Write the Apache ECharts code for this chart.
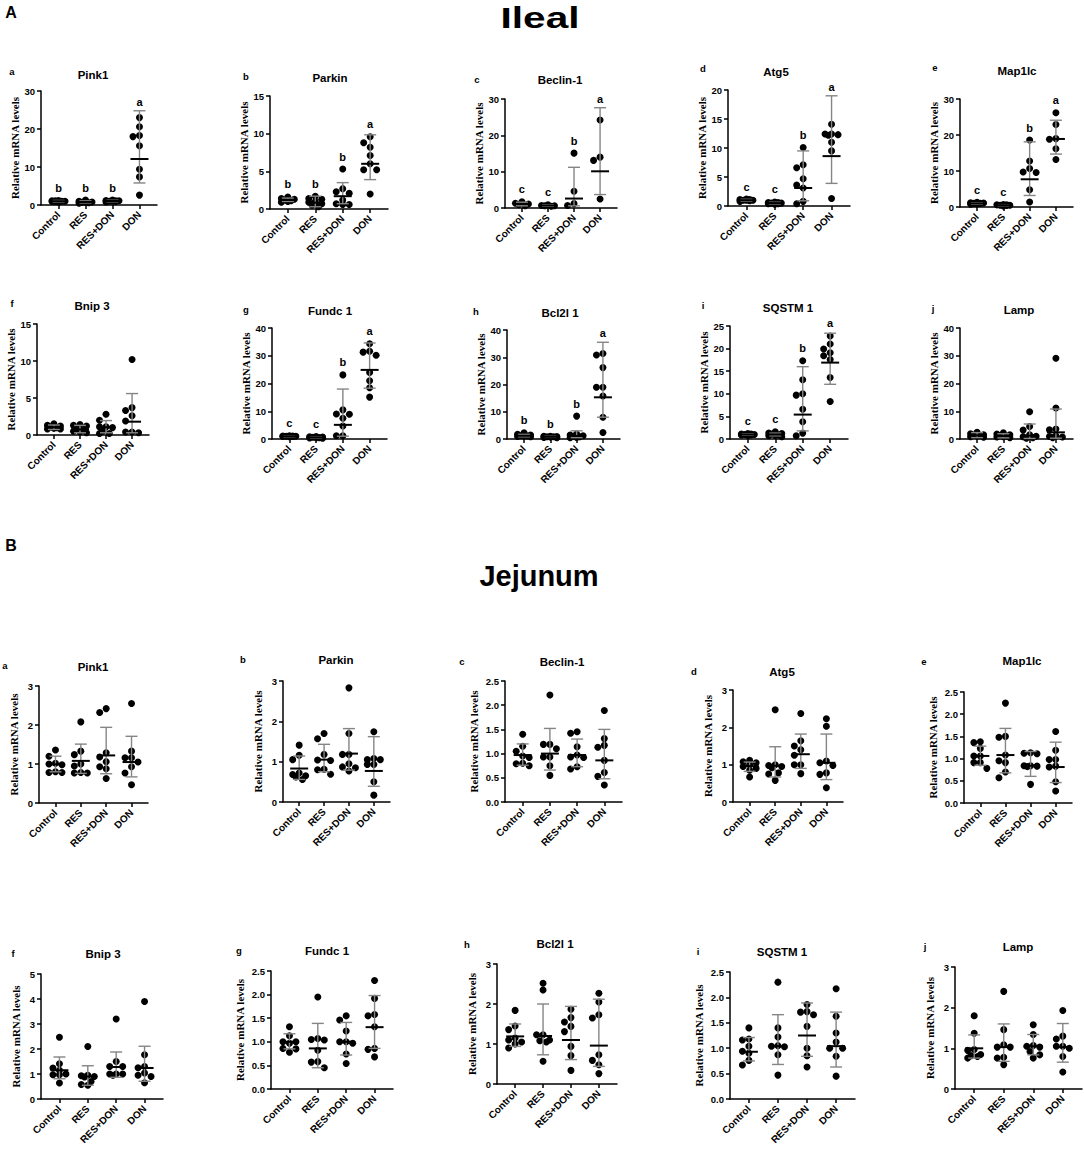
<!DOCTYPE html>
<html>
<head>
<meta charset="utf-8">
<script src="https://cdn.jsdelivr.net/npm/echarts@6/dist/echarts.min.js"></script>
<style>
  html, body { margin: 0; padding: 0; background: #fff; }
  #main { width: 1084px; height: 1149px; }
</style>
</head>
<body>
<div id="main"></div>
<script>
const groups = ['Control', 'RES', 'RES+DON', 'DON'];
const genes = ['Pink1', 'Parkin', 'Beclin-1', 'Atg5', 'Map1lc', 'Bnip 3', 'Fundc 1', 'Bcl2l 1', 'SQSTM 1', 'Lamp'];
const panelTags = ['a', 'b', 'c', 'd', 'e', 'f', 'g', 'h', 'i', 'j'];

const ilealYMax = [30, 15, 30, 20, 30, 15, 40, 40, 25, 40];
const ilealYStep = [10, 5, 10, 5, 10, 5, 10, 10, 5, 10];
const jejunumYMax = [3, 3, 2.5, 3, 2.5, 5, 2.5, 3, 2.5, 3];
const jejunumYStep = [1, 1, 0.5, 1, 0.5, 1, 0.5, 1, 0.5, 1];

// Ileal, points per group (Control, RES, RES+DON, DON)
const ilealPink1 = [[1.2, 1.1, 1.0, 0.9, 1.0, 0.8, 1.1, 0.9], [1.3, 1.0, 0.8, 0.7, 0.6, 0.9, 0.5, 0.7], [1.3, 1.2, 1.1, 1.0, 0.9, 1.0, 0.8, 1.1], [23.0, 20.6, 18.3, 18.0, 15.6, 9.4, 7.4, 2.6]];
const ilealParkin = [[1.6, 1.4, 1.3, 1.2, 1.1, 1.0, 0.9, 1.2], [1.7, 1.4, 1.3, 1.0, 0.9, 0.7, 0.5, 0.3], [5.3, 2.7, 2.3, 2.1, 1.2, 0.7, 0.6, 0.6], [9.6, 8.8, 8.2, 7.1, 6.0, 5.2, 5.2, 2.0]];
const ilealBeclin1 = [[1.7, 1.3, 1.1, 0.9, 0.6], [0.9, 0.7, 0.6, 0.6, 0.5], [15.1, 4.6, 1.2, 0.7], [24.2, 14.0, 13.1, 2.5]];
const ilealAtg5 = [[1.2, 1.1, 1.0, 1.0, 0.9, 1.0, 0.8, 1.1], [0.7, 0.6, 0.5, 0.5, 0.4, 0.6, 0.3, 0.4], [10.1, 7.1, 6.6, 4.7, 3.6, 3.1, 0.8, 0.4], [14.1, 12.4, 12.4, 12.3, 12.2, 11.0, 9.5, 1.3]];
const ilealMap1lc = [[1.3, 1.2, 1.1, 1.0, 1.0, 0.9, 0.8, 1.1], [0.7, 0.6, 0.5, 0.5, 0.4, 0.6, 0.3, 0.5], [18.6, 12.8, 10.7, 9.7, 9.6, 4.8, 1.4], [26.2, 22.9, 19.0, 18.8, 16.2, 13.2]];
const ilealBnip3 = [[1.5, 1.3, 1.2, 1.1, 1.0, 0.9, 0.8, 0.8], [1.4, 1.3, 1.2, 0.9, 0.7, 0.5, 0.4, 0.3], [2.8, 2.0, 1.1, 1.1, 1.0, 0.5, 0.2, 0.2], [10.2, 3.7, 3.3, 2.6, 1.9, 0.4, 0.4, 0.3]];
const ilealFundc1 = [[1.2, 1.1, 1.0, 1.0, 0.9, 1.1, 0.8, 0.9], [0.9, 0.8, 0.7, 0.6, 0.5, 0.5, 0.4, 0.3], [23.1, 10.5, 9.0, 8.9, 7.5, 4.7, 1.2, 1.2], [34.3, 31.6, 31.3, 30.2, 24.0, 21.0, 18.5, 15.1]];
const ilealBcl2l1 = [[2.3, 1.7, 1.5, 1.2, 1.1, 1.0, 0.9, 0.8], [1.0, 1.0, 0.9, 0.8, 0.8, 0.7, 0.6, 0.5], [8.4, 1.8, 1.5, 1.2, 1.0, 0.8, 0.6, 0.5], [31.4, 30.8, 26.2, 19.0, 19.0, 15.8, 8.0, 2.4]];
const ilealSqstm1 = [[1.2, 1.1, 1.0, 1.0, 0.9, 1.1, 0.8, 0.9], [1.6, 1.3, 1.2, 1.1, 0.9, 0.8, 0.7, 0.5], [17.3, 13.1, 10.0, 9.7, 6.6, 3.8, 1.3, 0.7], [22.8, 21.0, 19.9, 19.1, 18.4, 17.6, 13.6, 8.3]];
const ilealLamp = [[2.4, 1.9, 1.5, 1.4, 1.2, 1.0, 0.8, 0.6], [2.2, 1.8, 1.5, 1.2, 1.0, 0.8, 0.7, 0.5], [9.8, 4.5, 3.2, 1.5, 1.0, 0.8, 0.5, 0.3], [29.1, 11.2, 3.6, 3.3, 1.2, 0.9, 0.7, 0.5]];

// Ileal, [centre, lower, upper] per group
const ilealPink1Bar = [[1.0, 0.8, 1.2], [0.8, 0.55, 1.1], [1.05, 0.85, 1.25], [12.1, 5.8, 24.8]];
const ilealParkinBar = [[1.2, 1.0, 1.45], [0.85, 0.3, 1.7], [1.7, 0.7, 3.5], [6.0, 3.9, 9.85]];
const ilealBeclin1Bar = [[1.1, 0.6, 1.6], [0.7, 0.5, 0.9], [2.6, 0.6, 11.2], [10.1, 3.7, 27.6]];
const ilealAtg5Bar = [[1.0, 0.85, 1.15], [0.5, 0.35, 0.65], [3.1, 0.9, 9.5], [8.6, 3.9, 19.0]];
const ilealMap1lcBar = [[1.0, 0.8, 1.2], [0.5, 0.35, 0.65], [7.7, 3.2, 18.1], [18.9, 14.7, 24.1]];
const ilealBnip3Bar = [[1.05, 0.75, 1.35], [0.75, 0.3, 1.3], [1.05, 0.3, 1.95], [1.8, 0.3, 5.6]];
const ilealFundc1Bar = [[1.0, 0.8, 1.2], [0.6, 0.4, 0.8], [5.1, 1.0, 18.0], [24.9, 18.3, 34.6]];
const ilealBcl2l1Bar = [[1.2, 0.8, 1.7], [0.8, 0.6, 1.0], [1.1, 0.5, 3.0], [15.3, 8.0, 35.5]];
const ilealSqstm1Bar = [[1.0, 0.85, 1.15], [1.0, 0.7, 1.3], [5.4, 1.8, 16.0], [16.9, 12.1, 23.4]];
const ilealLampBar = [[1.3, 0.5, 2.3], [1.1, 0.4, 1.9], [1.2, 0.2, 5.4], [2.4, 0.3, 10.8]];

const ilealSig = [['b', 'b', 'b', 'a'], ['b', 'b', 'b', 'a'], ['c', 'c', 'b', 'a'], ['c', 'c', 'b', 'a'], ['c', 'c', 'b', 'a'],
  ['', '', '', ''], ['c', 'c', 'b', 'a'], ['b', 'b', 'b', 'a'], ['c', 'c', 'b', 'a'], ['', '', '', '']];

// Jejunum, points per group
const jejunumPink1 = [[1.36, 1.2, 1.02, 1.0, 0.98, 0.8, 0.78, 0.78], [2.08, 1.33, 1.24, 1.0, 0.95, 0.78, 0.77, 0.77], [2.42, 2.32, 1.29, 1.18, 1.06, 0.93, 0.88, 0.63], [2.55, 1.33, 1.16, 1.16, 1.05, 0.93, 0.77, 0.47]];
const jejunumParkin = [[1.41, 1.16, 1.05, 0.72, 0.68, 0.65, 0.62, 0.56], [1.70, 1.57, 1.18, 1.04, 1.03, 0.81, 0.80, 0.69], [2.83, 1.70, 1.18, 1.18, 0.95, 0.87, 0.85, 0.77], [1.74, 1.08, 1.05, 1.05, 0.93, 0.93, 0.5, 0.17]];
const jejunumBeclin1 = [[1.40, 1.15, 1.05, 0.95, 0.92, 0.80, 0.79, 0.75], [2.21, 1.19, 1.19, 1.1, 0.93, 0.93, 0.75, 0.55], [1.45, 1.42, 1.14, 0.97, 0.93, 0.92, 0.73, 0.68], [1.89, 1.31, 1.17, 1.13, 0.86, 0.61, 0.53, 0.35]];
const jejunumAtg5 = [[1.12, 1.08, 1.05, 1.0, 0.95, 0.9, 0.85, 0.67], [2.47, 1.0, 0.98, 0.95, 0.92, 0.78, 0.75, 0.58], [2.37, 1.64, 1.5, 1.4, 1.25, 1.0, 1.0, 0.76], [2.23, 2.03, 1.1, 1.05, 0.98, 0.78, 0.74, 0.38]];
const jejunumMap1lc = [[1.38, 1.36, 1.23, 1.06, 1.06, 0.91, 0.91, 0.78], [2.25, 1.5, 1.48, 1.08, 0.95, 0.91, 0.7, 0.57], [1.13, 1.12, 1.11, 0.84, 0.84, 0.83, 0.82, 0.42], [1.61, 1.19, 0.98, 0.98, 0.83, 0.81, 0.48, 0.27]];
const jejunumBnip3 = [[2.47, 1.41, 1.24, 1.15, 1.0, 0.97, 0.97, 0.64], [2.1, 0.95, 0.93, 0.9, 0.88, 0.7, 0.58, 0.55], [3.2, 1.5, 1.3, 1.3, 1.0, 1.0, 1.0, 0.95], [3.9, 1.77, 1.3, 1.25, 1.04, 0.95, 0.9, 0.65]];
const jejunumFundc1 = [[1.32, 1.13, 1.0, 1.0, 0.97, 0.86, 0.85, 0.78], [1.95, 1.07, 1.05, 1.04, 0.82, 0.58, 0.57, 0.45], [1.55, 1.46, 1.23, 1.0, 1.0, 0.97, 0.74, 0.54], [2.3, 1.92, 1.58, 1.55, 1.32, 0.86, 0.84, 0.68]];
const jejunumBcl2l1 = [[1.84, 1.45, 1.36, 1.15, 1.1, 1.05, 1.0, 0.9], [2.52, 2.35, 1.23, 1.23, 1.1, 1.08, 1.05, 0.57], [1.87, 1.66, 1.55, 1.44, 1.31, 0.94, 0.71, 0.34], [2.27, 2.05, 1.73, 1.65, 0.73, 0.59, 0.48, 0.26]];
const jejunumSqstm1 = [[1.4, 1.18, 1.16, 1.04, 0.94, 0.9, 0.76, 0.67], [2.3, 1.4, 1.22, 1.05, 1.04, 1.03, 0.87, 0.47], [1.86, 1.72, 1.71, 1.66, 1.43, 1.0, 0.85, 0.63], [2.17, 1.63, 1.3, 1.12, 1.0, 1.0, 0.84, 0.45]];
const jejunumLamp = [[1.8, 1.37, 0.97, 0.95, 0.85, 0.82, 0.8, 0.76], [2.4, 1.46, 1.09, 1.03, 1.03, 0.78, 0.76, 0.6], [1.58, 1.34, 1.07, 1.05, 1.03, 0.92, 0.84, 0.76], [1.93, 1.3, 1.23, 1.05, 1.05, 1.0, 0.8, 0.42]];

// Jejunum, [centre, lower, upper] per group
const jejunumPink1Bar = [[0.99, 0.8, 1.2], [1.08, 0.76, 1.51], [1.22, 0.75, 1.94], [1.05, 0.67, 1.71]];
const jejunumParkinBar = [[0.83, 0.56, 1.14], [1.05, 0.75, 1.43], [1.2, 0.79, 1.82], [0.77, 0.39, 1.62]];
const jejunumBeclin1Bar = [[0.97, 0.76, 1.2], [1.0, 0.66, 1.52], [0.97, 0.73, 1.3], [0.86, 0.48, 1.5]];
const jejunumAtg5Bar = [[0.96, 0.82, 1.07], [0.97, 0.67, 1.48], [1.28, 0.9, 1.82], [1.05, 0.6, 1.82]];
const jejunumMap1lcBar = [[1.06, 0.85, 1.28], [1.08, 0.68, 1.68], [0.84, 0.6, 1.16], [0.81, 0.46, 1.37]];
const jejunumBnip3Bar = [[1.15, 0.81, 1.68], [0.9, 0.55, 1.33], [1.28, 0.87, 1.88], [1.24, 0.71, 2.11]];
const jejunumFundc1Bar = [[1.0, 0.85, 1.17], [0.86, 0.45, 1.39], [1.0, 0.72, 1.41], [1.31, 0.86, 1.98]];
const jejunumBcl2l1Bar = [[1.19, 0.94, 1.5], [1.2, 0.73, 2.0], [1.1, 0.61, 1.94], [0.96, 0.44, 2.12]];
const jejunumSqstm1Bar = [[0.93, 0.75, 1.21], [1.04, 0.68, 1.66], [1.25, 0.84, 1.89], [1.04, 0.63, 1.71]];
const jejunumLampBar = [[1.0, 0.76, 1.33], [1.03, 0.68, 1.6], [1.05, 0.84, 1.34], [1.03, 0.66, 1.61]];

const ilealPoints = [ilealPink1, ilealParkin, ilealBeclin1, ilealAtg5, ilealMap1lc, ilealBnip3, ilealFundc1, ilealBcl2l1, ilealSqstm1, ilealLamp];
const ilealBars = [ilealPink1Bar, ilealParkinBar, ilealBeclin1Bar, ilealAtg5Bar, ilealMap1lcBar, ilealBnip3Bar, ilealFundc1Bar, ilealBcl2l1Bar, ilealSqstm1Bar, ilealLampBar];
const jejunumPoints = [jejunumPink1, jejunumParkin, jejunumBeclin1, jejunumAtg5, jejunumMap1lc, jejunumBnip3, jejunumFundc1, jejunumBcl2l1, jejunumSqstm1, jejunumLamp];
const jejunumBars = [jejunumPink1Bar, jejunumParkinBar, jejunumBeclin1Bar, jejunumAtg5Bar, jejunumMap1lcBar, jejunumBnip3Bar, jejunumFundc1Bar, jejunumBcl2l1Bar, jejunumSqstm1Bar, jejunumLampBar];

// plot boxes [left, top, width, height], title centre, panel letter centre
const layout = [
  { g: [41, 91, 116, 114], t: [93, 75], k: [12, 71] },
  { g: [270, 96, 118, 113], t: [330, 78], k: [246, 76] },
  { g: [505, 99, 112, 109], t: [560, 80], k: [477, 79] },
  { g: [728, 90, 122, 116], t: [776, 72], k: [703, 68] },
  { g: [960, 99, 113, 108], t: [1017, 71], k: [935, 67] },
  { g: [37, 324, 112, 111], t: [92, 306], k: [12, 303] },
  { g: [272, 328, 115, 111], t: [330, 311], k: [246, 309] },
  { g: [507, 330, 113, 109], t: [560, 313], k: [476, 311] },
  { g: [730, 326, 118, 113], t: [788, 308], k: [703, 305] },
  { g: [960, 328, 113, 111], t: [1019, 310], k: [933, 308] },
  { g: [39, 686, 109, 117], t: [93, 667], k: [5, 665] },
  { g: [283, 681, 107, 121], t: [336, 660], k: [243, 659] },
  { g: [505, 681, 117, 121], t: [562, 662], k: [462, 661] },
  { g: [733, 690, 110, 112], t: [782, 672], k: [694, 671] },
  { g: [964, 692, 108, 111], t: [1022, 661], k: [924, 661] },
  { g: [41, 974, 122, 125], t: [103, 954], k: [13, 953] },
  { g: [271, 971, 122, 118], t: [327, 951], k: [239, 950] },
  { g: [497, 964, 120, 120], t: [555, 944], k: [467, 944] },
  { g: [730, 972, 125, 127], t: [782, 952], k: [698, 951] },
  { g: [955, 967, 127, 122], t: [1018, 947], k: [925, 946] }
];

const SANS = '"Liberation Sans", Arial, sans-serif';
const SERIF = '"Liberation Serif", "Times New Roman", serif';
const X_MIN = -0.65, X_MAX = 3.65;

// spread points sideways so they don't sit on top of each other
function swarm(vals, yMax, g) {
  const xu = g[2] / (X_MAX - X_MIN), yu = g[3] / yMax;
  const s = 6.5, D = 6.5;
  const cand = [0, -s, s, -s / 2, s / 2];
  const placed = [];
  return vals.map(v => {
    const y = v * yu;
    let best = 0, bestOv = Infinity;
    cand.forEach(dx => {
      let ov = 0;
      placed.forEach(p => {
        ov = Math.max(ov, D - Math.hypot(p[0] - dx, p[1] - y));
      });
      if (ov < bestOv - 1e-6) { bestOv = ov; best = dx; }
    });
    placed.push([best, y]);
    return best / xu;
  });
}

function barRenderer(sig, tops) {
  return function (params, api) {
    const i = api.value(0);
    const c = api.coord([i, api.value(1)]);
    const lo = api.coord([i, api.value(2)]);
    const hi = api.coord([i, api.value(3)]);
    const top = api.coord([i, tops[params.dataIndex]]);
    const x = c[0];
    const grey = { stroke: '#858585', lineWidth: 1.4 };
    const children = [
      { type: 'line', shape: { x1: x, y1: lo[1], x2: x, y2: hi[1] }, style: grey },
      { type: 'line', shape: { x1: x - 6, y1: lo[1], x2: x + 6, y2: lo[1] }, style: grey },
      { type: 'line', shape: { x1: x - 6, y1: hi[1], x2: x + 6, y2: hi[1] }, style: grey },
      { type: 'line', shape: { x1: x - 9, y1: c[1], x2: x + 9, y2: c[1] }, style: { stroke: '#000', lineWidth: 2 } }
    ];
    const s = sig[params.dataIndex];
    if (s) {
      children.push({
        type: 'text', x: x, y: Math.min(hi[1], top[1] - 3.5) - 9,
        style: { text: s, font: 'bold 11px ' + SANS, fill: '#000', align: 'center', verticalAlign: 'middle' }
      });
    }
    return { type: 'group', children: children };
  };
}

function txt(text, x, y, font, scaleX) {
  return { type: 'text', x: x, y: y, scaleX: scaleX || 1, silent: true,
    style: { text: text, font: font, fill: '#000', align: 'center', verticalAlign: 'middle' } };
}

const option = {
  animation: false,
  backgroundColor: '#fff',
  graphic: [
    txt('A', 11, 12, 'bold 16px ' + SANS),
    txt('Ileal', 540, 18, 'bold 29px ' + SANS, 1.4),
    txt('B', 11, 545, 'bold 16px ' + SANS),
    txt('Jejunum', 539, 576, 'bold 29px ' + SANS)
  ],
  grid: [],
  xAxis: [],
  yAxis: [],
  series: []
};

for (let p = 0; p < 20; p++) {
  const gi = p % 10;
  const ileal = p < 10;
  const pts = ileal ? ilealPoints[gi] : jejunumPoints[gi];
  const bars = ileal ? ilealBars[gi] : jejunumBars[gi];
  const sig = ileal ? ilealSig[gi] : ['', '', '', ''];
  const yMax = ileal ? ilealYMax[gi] : jejunumYMax[gi];
  const yStep = ileal ? ilealYStep[gi] : jejunumYStep[gi];
  const L = layout[p];
  const g = L.g;

  option.graphic.push(txt(genes[gi], L.t[0], L.t[1], 'bold 11.5px ' + SANS));
  option.graphic.push(txt(panelTags[gi], L.k[0], L.k[1], 'bold 9.5px ' + SANS));

  option.grid.push({ left: g[0], top: g[1], width: g[2], height: g[3], containLabel: false });

  option.xAxis.push({
    type: 'value', gridIndex: p, min: X_MIN, max: X_MAX,
    splitLine: { show: false },
    axisLine: { show: true, onZero: false, lineStyle: { color: '#000', width: 1.5 } },
    axisTick: { show: true, customValues: [0, 1, 2, 3], length: 4, lineStyle: { color: '#000', width: 1.5 } },
    axisLabel: {
      customValues: [0, 1, 2, 3], rotate: 45, margin: 8,
      formatter: v => groups[Math.round(v)],
      fontSize: 10, fontWeight: 'bold', fontFamily: SANS, color: '#000'
    }
  });

  option.yAxis.push({
    type: 'value', gridIndex: p, min: 0, max: yMax, interval: yStep,
    name: 'Relative mRNA levels', nameLocation: 'middle', nameRotate: 90,
    nameGap: yStep < 1 ? 26 : 20,
    nameTextStyle: { fontFamily: SERIF, fontWeight: 'bold', fontSize: 11, color: '#000' },
    splitLine: { show: false },
    axisLine: { show: true, onZero: false, lineStyle: { color: '#000', width: 1.5 } },
    axisTick: { show: true, length: 4, lineStyle: { color: '#000', width: 1.5 } },
    axisLabel: {
      margin: 6, fontSize: 9.5, fontWeight: 'bold', fontFamily: SANS, color: '#000',
      formatter: v => (yStep < 1 ? v.toFixed(1) : String(v))
    }
  });

  const scatterData = [];
  pts.forEach((vals, k) => {
    const off = swarm(vals, yMax, g);
    vals.forEach((v, n) => scatterData.push([k + off[n], v]));
  });
  option.series.push({
    type: 'scatter', xAxisIndex: p, yAxisIndex: p, silent: true, z: 2,
    symbol: 'circle', symbolSize: 7, itemStyle: { color: '#000', opacity: 1 },
    data: scatterData
  });

  const tops = pts.map(vals => Math.max.apply(null, vals));
  option.series.push({
    type: 'custom', xAxisIndex: p, yAxisIndex: p, silent: true, z: 3,
    renderItem: barRenderer(sig, tops),
    data: bars.map((b, k) => [k, b[0], b[1], b[2]])
  });
}

const chart = echarts.init(document.getElementById('main'), null, { renderer: 'svg' });
chart.setOption(option);
window.addEventListener('resize', () => chart.resize());
</script>
</body>
</html>
